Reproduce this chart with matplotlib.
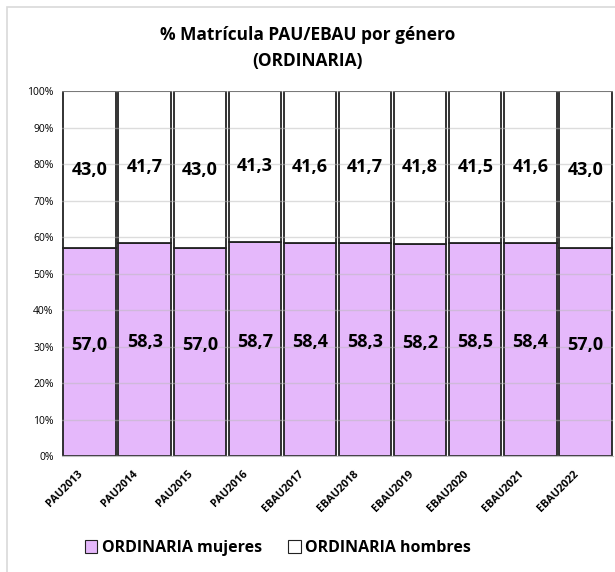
import numpy as np
import matplotlib
matplotlib.use("Agg")
import matplotlib.pyplot as plt
from matplotlib.patches import Rectangle

categories = ["PAU2013", "PAU2014", "PAU2015", "PAU2016", "EBAU2017",
              "EBAU2018", "EBAU2019", "EBAU2020", "EBAU2021", "EBAU2022"]
mujeres = [57.0, 58.3, 57.0, 58.7, 58.4, 58.3, 58.2, 58.5, 58.4, 57.0]
hombres = [43.0, 41.7, 43.0, 41.3, 41.6, 41.7, 41.8, 41.5, 41.6, 43.0]

plt.rcParams["font.family"] = ["Open Sans", "DejaVu Sans"]

fig = plt.figure(figsize=(6.15, 5.72), dpi=100)
ax = fig.add_axes([0.1008, 0.2028, 0.896, 0.638])

x = np.arange(len(categories))
purple = "#E5B8FB"
ax.bar(x, mujeres, width=0.95, color=purple, edgecolor="#222222", linewidth=1.3,
       zorder=1, label="ORDINARIA mujeres")
ax.bar(x, hombres, width=0.95, bottom=mujeres, color="white", edgecolor="#222222",
       linewidth=1.3, zorder=1, label="ORDINARIA hombres")

for xi, m, h in zip(x, mujeres, hombres):
    ax.text(xi, m / 2 + 2, f"{m:.1f}".replace(".", ","), ha="center", va="center",
            fontsize=13, fontweight="bold", zorder=3)
    ax.text(xi, m + h / 2, f"{h:.1f}".replace(".", ","), ha="center", va="center",
            fontsize=13, fontweight="bold", zorder=3)

ax.set_xlim(-0.5, len(categories) - 0.5)
ax.set_ylim(0, 100)
ax.set_yticks(np.arange(0, 101, 10))
ax.set_yticklabels([f"{v}%" for v in range(0, 101, 10)], fontsize=7.5)
# labels sit a bit left of the bar centre, like the original
ax.set_xticks(x - 0.22)
ax.set_xticklabels(categories, rotation=45, ha="right", rotation_mode="anchor",
                   fontsize=7.8, fontweight="bold")
ax.tick_params(length=0, pad=6)
ax.tick_params(axis="x", pad=9)
ax.yaxis.grid(True, color="#bbbbbb", alpha=0.5, linewidth=1, zorder=2)
ax.set_axisbelow(False)
for s in ["top", "right", "left"]:
    ax.spines[s].set_visible(False)
ax.spines["bottom"].set_color("#bfbfbf")

fig.text(0.5, 0.938, "% Matrícula PAU/EBAU por género", ha="center", va="center",
         fontsize=12.5, fontweight="bold")
fig.text(0.5, 0.894, "(ORDINARIA)", ha="center", va="center",
         fontsize=12.5, fontweight="bold")

leg = fig.legend(loc="center", bbox_to_anchor=(0.452, 0.042), ncol=2, frameon=False,
                 prop={"weight": "bold", "size": 11.5}, handlelength=0.8,
                 handleheight=0.8, handletextpad=0.3, columnspacing=1.6)
for p in leg.get_patches():
    p.set_linewidth(0.8)

fig.patches.append(Rectangle((0.011, -0.01), 1.0, 0.998, transform=fig.transFigure,
                             fill=False, edgecolor="#d9d9d9", linewidth=1.2))

fig.savefig("out.png", dpi=100)
